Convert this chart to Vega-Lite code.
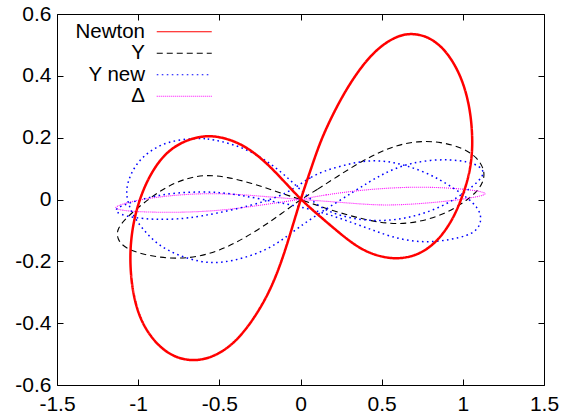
{
  "$schema": "https://vega.github.io/schema/vega-lite/v6.json",
  "width": 487,
  "height": 371,
  "autosize": {"type": "none"},
  "padding": {"left": 57, "top": 14, "right": 18, "bottom": 32},
  "background": "white",
  "config": {
    "view": {"stroke": "#000", "strokeWidth": 1},
    "axis": {"grid": false, "domain": false, "tickColor": "#000", "tickSize": -6, "tickWidth": 1, "labelFont": "Liberation Sans", "labelFontSize": 21, "labelColor": "#000", "title": null, "labelFlush": false, "labelOverlap": false},
    "legend": {"orient": "none", "legendX": 117, "legendY": 7.5, "title": null, "symbolType": "M-5.5,0H5.5", "symbolSize": 100, "symbolStrokeWidth": 1.1, "labelAlign": "right", "labelOffset": -49.5, "labelFont": "Liberation Sans", "labelFontSize": 20.5, "labelColor": "#000", "rowPadding": 0.5, "padding": 0, "labelLimit": 0}
  },
  "data": {"values": [
    {"s":"Newton","p":"a","i":0,"x":0,"y":0},
    {"s":"Newton","p":"a","i":1,"x":0.062,"y":0.095},
    {"s":"Newton","p":"a","i":2,"x":0.123,"y":0.19},
    {"s":"Newton","p":"a","i":3,"x":0.205,"y":0.282},
    {"s":"Newton","p":"a","i":4,"x":0.288,"y":0.362},
    {"s":"Newton","p":"a","i":5,"x":0.39,"y":0.441},
    {"s":"Newton","p":"a","i":6,"x":0.493,"y":0.497},
    {"s":"Newton","p":"a","i":7,"x":0.596,"y":0.529},
    {"s":"Newton","p":"a","i":8,"x":0.678,"y":0.538},
    {"s":"Newton","p":"a","i":9,"x":0.781,"y":0.529},
    {"s":"Newton","p":"a","i":10,"x":0.883,"y":0.49},
    {"s":"Newton","p":"a","i":11,"x":0.965,"y":0.425},
    {"s":"Newton","p":"a","i":12,"x":1.017,"y":0.355},
    {"s":"Newton","p":"a","i":13,"x":1.048,"y":0.279},
    {"s":"Newton","p":"a","i":14,"x":1.06,"y":0.2},
    {"s":"Newton","p":"a","i":15,"x":1.056,"y":0.138},
    {"s":"Newton","p":"a","i":16,"x":1.037,"y":0.074},
    {"s":"Newton","p":"a","i":17,"x":0.998,"y":0.011},
    {"s":"Newton","p":"a","i":18,"x":0.955,"y":-0.045},
    {"s":"Newton","p":"a","i":19,"x":0.904,"y":-0.092},
    {"s":"Newton","p":"a","i":20,"x":0.842,"y":-0.134},
    {"s":"Newton","p":"a","i":21,"x":0.765,"y":-0.167},
    {"s":"Newton","p":"a","i":22,"x":0.68,"y":-0.186},
    {"s":"Newton","p":"a","i":23,"x":0.575,"y":-0.193},
    {"s":"Newton","p":"a","i":24,"x":0.452,"y":-0.18},
    {"s":"Newton","p":"a","i":25,"x":0.349,"y":-0.153},
    {"s":"Newton","p":"a","i":26,"x":0.25,"y":-0.113},
    {"s":"Newton","p":"a","i":27,"x":0.125,"y":-0.057},
    {"s":"Newton","p":"a","i":28,"x":0,"y":0},
    {"s":"Newton","p":"a","i":29,"x":-0.123,"y":0.072},
    {"s":"Newton","p":"a","i":30,"x":-0.246,"y":0.137},
    {"s":"Newton","p":"a","i":31,"x":-0.37,"y":0.182},
    {"s":"Newton","p":"a","i":32,"x":-0.493,"y":0.203},
    {"s":"Newton","p":"a","i":33,"x":-0.59,"y":0.207},
    {"s":"Newton","p":"a","i":34,"x":-0.7,"y":0.193},
    {"s":"Newton","p":"a","i":35,"x":-0.8,"y":0.164},
    {"s":"Newton","p":"a","i":36,"x":-0.88,"y":0.119},
    {"s":"Newton","p":"a","i":37,"x":-0.948,"y":0.058},
    {"s":"Newton","p":"a","i":38,"x":-0.998,"y":-0.01},
    {"s":"Newton","p":"a","i":39,"x":-1.032,"y":-0.08},
    {"s":"Newton","p":"a","i":40,"x":-1.05,"y":-0.16},
    {"s":"Newton","p":"a","i":41,"x":-1.047,"y":-0.24},
    {"s":"Newton","p":"a","i":42,"x":-1.027,"y":-0.318},
    {"s":"Newton","p":"a","i":43,"x":-0.984,"y":-0.393},
    {"s":"Newton","p":"a","i":44,"x":-0.905,"y":-0.458},
    {"s":"Newton","p":"a","i":45,"x":-0.801,"y":-0.506},
    {"s":"Newton","p":"a","i":46,"x":-0.667,"y":-0.525},
    {"s":"Newton","p":"a","i":47,"x":-0.534,"y":-0.51},
    {"s":"Newton","p":"a","i":48,"x":-0.411,"y":-0.467},
    {"s":"Newton","p":"a","i":49,"x":-0.308,"y":-0.402},
    {"s":"Newton","p":"a","i":50,"x":-0.205,"y":-0.315},
    {"s":"Newton","p":"a","i":51,"x":-0.125,"y":-0.215},
    {"s":"Newton","p":"a","i":52,"x":-0.062,"y":-0.11},

    {"s":"Y","p":"a","i":0,"x":0,"y":0},
    {"s":"Y","p":"a","i":1,"x":0.103,"y":0.032},
    {"s":"Y","p":"a","i":2,"x":0.225,"y":0.074},
    {"s":"Y","p":"a","i":3,"x":0.349,"y":0.115},
    {"s":"Y","p":"a","i":4,"x":0.473,"y":0.15},
    {"s":"Y","p":"a","i":5,"x":0.596,"y":0.176},
    {"s":"Y","p":"a","i":6,"x":0.719,"y":0.189},
    {"s":"Y","p":"a","i":7,"x":0.863,"y":0.187},
    {"s":"Y","p":"a","i":8,"x":1.006,"y":0.166},
    {"s":"Y","p":"a","i":9,"x":1.09,"y":0.135},
    {"s":"Y","p":"a","i":10,"x":1.135,"y":0.095},
    {"s":"Y","p":"a","i":11,"x":1.128,"y":0.058},
    {"s":"Y","p":"a","i":12,"x":1.09,"y":0.028},
    {"s":"Y","p":"a","i":13,"x":1.04,"y":0.004},
    {"s":"Y","p":"a","i":14,"x":0.975,"y":-0.02},
    {"s":"Y","p":"a","i":15,"x":0.89,"y":-0.045},
    {"s":"Y","p":"a","i":16,"x":0.78,"y":-0.066},
    {"s":"Y","p":"a","i":17,"x":0.66,"y":-0.078},
    {"s":"Y","p":"a","i":18,"x":0.55,"y":-0.078},
    {"s":"Y","p":"a","i":19,"x":0.44,"y":-0.07},
    {"s":"Y","p":"a","i":20,"x":0.3,"y":-0.052},
    {"s":"Y","p":"a","i":21,"x":0.144,"y":-0.027},
    {"s":"Y","p":"a","i":22,"x":0,"y":0},
    {"s":"Y","p":"a","i":23,"x":-0.15,"y":0.026},
    {"s":"Y","p":"a","i":24,"x":-0.3,"y":0.053},
    {"s":"Y","p":"a","i":25,"x":-0.452,"y":0.073},
    {"s":"Y","p":"a","i":26,"x":-0.58,"y":0.08},
    {"s":"Y","p":"a","i":27,"x":-0.7,"y":0.07},
    {"s":"Y","p":"a","i":28,"x":-0.84,"y":0.038},
    {"s":"Y","p":"a","i":29,"x":-0.97,"y":-0.012},
    {"s":"Y","p":"a","i":30,"x":-1.075,"y":-0.06},
    {"s":"Y","p":"a","i":31,"x":-1.135,"y":-0.098},
    {"s":"Y","p":"a","i":32,"x":-1.125,"y":-0.135},
    {"s":"Y","p":"a","i":33,"x":-1.068,"y":-0.16},
    {"s":"Y","p":"a","i":34,"x":-0.98,"y":-0.176},
    {"s":"Y","p":"a","i":35,"x":-0.863,"y":-0.188},
    {"s":"Y","p":"a","i":36,"x":-0.739,"y":-0.191},
    {"s":"Y","p":"a","i":37,"x":-0.62,"y":-0.184},
    {"s":"Y","p":"a","i":38,"x":-0.5,"y":-0.165},
    {"s":"Y","p":"a","i":39,"x":-0.38,"y":-0.135},
    {"s":"Y","p":"a","i":40,"x":-0.246,"y":-0.093},
    {"s":"Y","p":"a","i":41,"x":-0.12,"y":-0.047},

    {"s":"Y new","p":"a","i":0,"x":-0.637,"y":0.198},
    {"s":"Y new","p":"a","i":1,"x":-0.575,"y":0.197},
    {"s":"Y new","p":"a","i":2,"x":-0.493,"y":0.189},
    {"s":"Y new","p":"a","i":3,"x":-0.37,"y":0.171},
    {"s":"Y new","p":"a","i":4,"x":-0.246,"y":0.138},
    {"s":"Y new","p":"a","i":5,"x":-0.144,"y":0.1},
    {"s":"Y new","p":"a","i":6,"x":-0.062,"y":0.062},
    {"s":"Y new","p":"a","i":7,"x":0.02,"y":0.022},
    {"s":"Y new","p":"a","i":8,"x":0.092,"y":-0.014},
    {"s":"Y new","p":"a","i":9,"x":0.17,"y":-0.038},
    {"s":"Y new","p":"a","i":10,"x":0.26,"y":-0.054},
    {"s":"Y new","p":"a","i":11,"x":0.36,"y":-0.065},
    {"s":"Y new","p":"a","i":12,"x":0.46,"y":-0.069},
    {"s":"Y new","p":"a","i":13,"x":0.56,"y":-0.067},
    {"s":"Y new","p":"a","i":14,"x":0.66,"y":-0.059},
    {"s":"Y new","p":"a","i":15,"x":0.76,"y":-0.045},
    {"s":"Y new","p":"a","i":16,"x":0.863,"y":-0.024},
    {"s":"Y new","p":"a","i":17,"x":0.96,"y":0.004},
    {"s":"Y new","p":"a","i":18,"x":1.035,"y":0.032},
    {"s":"Y new","p":"a","i":19,"x":1.1,"y":0.06},
    {"s":"Y new","p":"a","i":20,"x":1.135,"y":0.087},
    {"s":"Y new","p":"a","i":21,"x":1.105,"y":0.108},
    {"s":"Y new","p":"a","i":22,"x":1.027,"y":0.123},
    {"s":"Y new","p":"a","i":23,"x":0.924,"y":0.129},
    {"s":"Y new","p":"a","i":24,"x":0.801,"y":0.128},
    {"s":"Y new","p":"a","i":25,"x":0.678,"y":0.117},
    {"s":"Y new","p":"a","i":26,"x":0.58,"y":0.1},
    {"s":"Y new","p":"a","i":27,"x":0.5,"y":0.08},
    {"s":"Y new","p":"a","i":28,"x":0.42,"y":0.056},
    {"s":"Y new","p":"a","i":29,"x":0.33,"y":0.026},
    {"s":"Y new","p":"a","i":30,"x":0.22,"y":-0.01},
    {"s":"Y new","p":"a","i":31,"x":0.1,"y":-0.05},
    {"s":"Y new","p":"a","i":32,"x":-0.01,"y":-0.09},
    {"s":"Y new","p":"a","i":33,"x":-0.103,"y":-0.127},
    {"s":"Y new","p":"a","i":34,"x":-0.205,"y":-0.162},
    {"s":"Y new","p":"a","i":35,"x":-0.349,"y":-0.19},
    {"s":"Y new","p":"a","i":36,"x":-0.493,"y":-0.206},
    {"s":"Y new","p":"a","i":37,"x":-0.616,"y":-0.203},
    {"s":"Y new","p":"a","i":38,"x":-0.76,"y":-0.18},
    {"s":"Y new","p":"a","i":39,"x":-0.875,"y":-0.148},
    {"s":"Y new","p":"a","i":40,"x":-0.96,"y":-0.104},
    {"s":"Y new","p":"a","i":41,"x":-1.03,"y":-0.054},
    {"s":"Y new","p":"a","i":42,"x":-1.066,"y":-0.007},
    {"s":"Y new","p":"a","i":43,"x":-1.075,"y":0.032},
    {"s":"Y new","p":"a","i":44,"x":-1.052,"y":0.076},
    {"s":"Y new","p":"a","i":45,"x":-1.008,"y":0.117},
    {"s":"Y new","p":"a","i":46,"x":-0.945,"y":0.15},
    {"s":"Y new","p":"a","i":47,"x":-0.863,"y":0.177},
    {"s":"Y new","p":"a","i":48,"x":-0.76,"y":0.193},

    {"s":"Y new","p":"b","i":0,"x":0,"y":0.05},
    {"s":"Y new","p":"b","i":1,"x":0.062,"y":0.072},
    {"s":"Y new","p":"b","i":2,"x":0.144,"y":0.092},
    {"s":"Y new","p":"b","i":3,"x":0.246,"y":0.108},
    {"s":"Y new","p":"b","i":4,"x":0.349,"y":0.121},
    {"s":"Y new","p":"b","i":5,"x":0.452,"y":0.127},
    {"s":"Y new","p":"b","i":6,"x":0.555,"y":0.122},
    {"s":"Y new","p":"b","i":7,"x":0.65,"y":0.11},
    {"s":"Y new","p":"b","i":8,"x":0.76,"y":0.09},
    {"s":"Y new","p":"b","i":9,"x":0.863,"y":0.063},
    {"s":"Y new","p":"b","i":10,"x":0.945,"y":0.036},
    {"s":"Y new","p":"b","i":11,"x":1.006,"y":0.014},
    {"s":"Y new","p":"b","i":12,"x":1.068,"y":-0.013},
    {"s":"Y new","p":"b","i":13,"x":1.11,"y":-0.042},
    {"s":"Y new","p":"b","i":14,"x":1.112,"y":-0.077},
    {"s":"Y new","p":"b","i":15,"x":1.08,"y":-0.102},
    {"s":"Y new","p":"b","i":16,"x":1.027,"y":-0.117},
    {"s":"Y new","p":"b","i":17,"x":0.924,"y":-0.13},
    {"s":"Y new","p":"b","i":18,"x":0.8,"y":-0.138},
    {"s":"Y new","p":"b","i":19,"x":0.68,"y":-0.135},
    {"s":"Y new","p":"b","i":20,"x":0.555,"y":-0.12},
    {"s":"Y new","p":"b","i":21,"x":0.452,"y":-0.1},
    {"s":"Y new","p":"b","i":22,"x":0.349,"y":-0.081},
    {"s":"Y new","p":"b","i":23,"x":0.246,"y":-0.061},
    {"s":"Y new","p":"b","i":24,"x":0.144,"y":-0.044},
    {"s":"Y new","p":"b","i":25,"x":0.041,"y":-0.029},
    {"s":"Y new","p":"b","i":26,"x":-0.082,"y":-0.015},
    {"s":"Y new","p":"b","i":27,"x":-0.23,"y":0},
    {"s":"Y new","p":"b","i":28,"x":-0.37,"y":0.014},
    {"s":"Y new","p":"b","i":29,"x":-0.493,"y":0.023},
    {"s":"Y new","p":"b","i":30,"x":-0.616,"y":0.025},
    {"s":"Y new","p":"b","i":31,"x":-0.76,"y":0.022},
    {"s":"Y new","p":"b","i":32,"x":-0.883,"y":0.013},
    {"s":"Y new","p":"b","i":33,"x":-1.006,"y":-0.003},
    {"s":"Y new","p":"b","i":34,"x":-1.095,"y":-0.019},
    {"s":"Y new","p":"b","i":35,"x":-1.152,"y":-0.034},
    {"s":"Y new","p":"b","i":36,"x":-1.112,"y":-0.048},
    {"s":"Y new","p":"b","i":37,"x":-1.027,"y":-0.059},
    {"s":"Y new","p":"b","i":38,"x":-0.903,"y":-0.065},
    {"s":"Y new","p":"b","i":39,"x":-0.76,"y":-0.064},
    {"s":"Y new","p":"b","i":40,"x":-0.616,"y":-0.055},
    {"s":"Y new","p":"b","i":41,"x":-0.411,"y":-0.033},
    {"s":"Y new","p":"b","i":42,"x":-0.205,"y":-0.005},
    {"s":"Y new","p":"b","i":43,"x":-0.082,"y":0.022},

    {"s":"Δ","p":"a","i":0,"x":0,"y":0},
    {"s":"Δ","p":"a","i":1,"x":0.15,"y":0.015},
    {"s":"Δ","p":"a","i":2,"x":0.349,"y":0.029},
    {"s":"Δ","p":"a","i":3,"x":0.555,"y":0.038},
    {"s":"Δ","p":"a","i":4,"x":0.76,"y":0.041},
    {"s":"Δ","p":"a","i":5,"x":0.965,"y":0.036},
    {"s":"Δ","p":"a","i":6,"x":1.095,"y":0.028},
    {"s":"Δ","p":"a","i":7,"x":1.158,"y":0.019},
    {"s":"Δ","p":"a","i":8,"x":1.095,"y":0.009},
    {"s":"Δ","p":"a","i":9,"x":0.965,"y":-0.002},
    {"s":"Δ","p":"a","i":10,"x":0.76,"y":-0.013},
    {"s":"Δ","p":"a","i":11,"x":0.555,"y":-0.019},
    {"s":"Δ","p":"a","i":12,"x":0.4,"y":-0.016},
    {"s":"Δ","p":"a","i":13,"x":0.22,"y":-0.008},
    {"s":"Δ","p":"a","i":14,"x":0,"y":0},
    {"s":"Δ","p":"a","i":15,"x":-0.205,"y":0.009},
    {"s":"Δ","p":"a","i":16,"x":-0.411,"y":0.018},
    {"s":"Δ","p":"a","i":17,"x":-0.616,"y":0.02},
    {"s":"Δ","p":"a","i":18,"x":-0.821,"y":0.012},
    {"s":"Δ","p":"a","i":19,"x":-0.986,"y":0},
    {"s":"Δ","p":"a","i":20,"x":-1.095,"y":-0.014},
    {"s":"Δ","p":"a","i":21,"x":-1.158,"y":-0.027},
    {"s":"Δ","p":"a","i":22,"x":-1.095,"y":-0.036},
    {"s":"Δ","p":"a","i":23,"x":-0.986,"y":-0.04},
    {"s":"Δ","p":"a","i":24,"x":-0.821,"y":-0.042},
    {"s":"Δ","p":"a","i":25,"x":-0.616,"y":-0.04},
    {"s":"Δ","p":"a","i":26,"x":-0.411,"y":-0.031},
    {"s":"Δ","p":"a","i":27,"x":-0.205,"y":-0.015}
  ]},
  "layer": [
    {
      "encoding": {
        "x": {"field": "x", "type": "quantitative", "scale": {"domain": [-1.5, 1.5], "nice": false, "zero": false},
              "axis": {"values": [-1.5, -1, -0.5, 0, 0.5, 1, 1.5], "labelPadding": 14, "labelExpr": "datum.value < 0 ? '-' + format(-datum.value, '~g') : format(datum.value, '~g')"}},
        "y": {"field": "y", "type": "quantitative", "scale": {"domain": [-0.6, 0.6], "nice": false, "zero": false},
              "axis": {"values": [-0.6, -0.4, -0.2, 0, 0.2, 0.4, 0.6], "labelPadding": 12, "labelExpr": "datum.value < 0 ? '-' + format(-datum.value, '~g') : format(datum.value, '~g')"}},
        "color": {"field": "s", "type": "nominal",
                  "scale": {"domain": ["Newton", "Y", "Y new", "Δ"], "range": ["#ff0000", "#000000", "#0000ff", "#ff00ff"]}},
        "strokeDash": {"field": "s", "type": "nominal",
                  "scale": {"domain": ["Newton", "Y", "Y new", "Δ"], "range": [[1, 0], [6, 4], [1.6, 3.4], [1, 1]]}},
        "detail": {"field": "p"},
        "order": {"field": "i", "type": "quantitative"}
      },
      "layer": [
        {"transform": [{"filter": "datum.s == 'Y' || datum.s == 'Δ'"}],
         "mark": {"type": "line", "interpolate": "basis-closed", "strokeWidth": 1.1}},
        {"transform": [{"filter": "datum.s == 'Y new'"}],
         "mark": {"type": "line", "interpolate": "basis-closed", "strokeWidth": 1.5}},
        {"transform": [{"filter": "datum.s == 'Newton'"}],
         "mark": {"type": "line", "interpolate": "basis-closed", "strokeWidth": 2.5}}
      ]
    },
    {
      "mark": {"type": "point", "opacity": 0},
      "encoding": {
        "x": {"field": "x", "type": "quantitative", "axis": {"orient": "top", "labels": false, "values": [-1.5, -1, -0.5, 0, 0.5, 1, 1.5]}},
        "y": {"field": "y", "type": "quantitative", "axis": {"orient": "right", "labels": false, "values": [-0.6, -0.4, -0.2, 0, 0.2, 0.4, 0.6]}}
      }
    }
  ],
  "resolve": {"axis": {"x": "independent", "y": "independent"}}
}
